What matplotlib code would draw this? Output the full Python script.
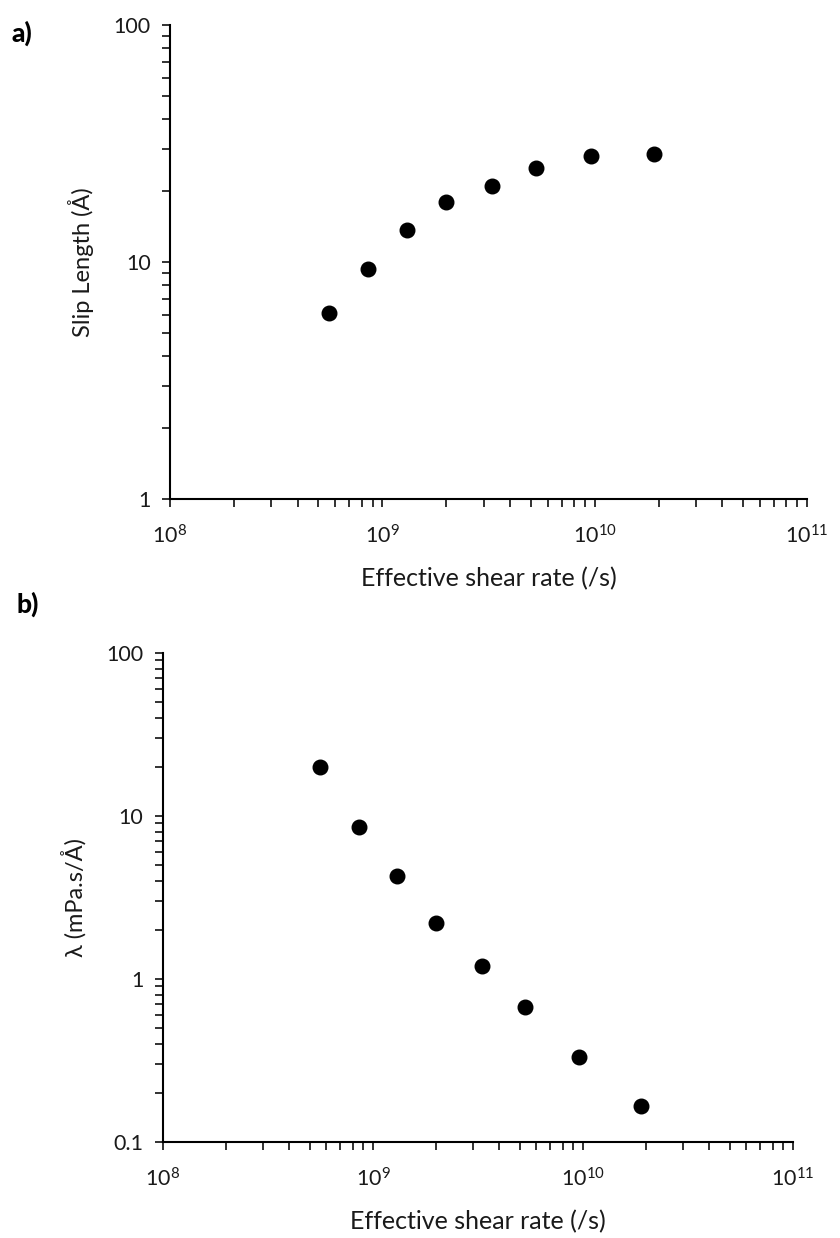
import matplotlib
matplotlib.use("Agg")
import matplotlib.pyplot as plt
from matplotlib.ticker import LogLocator, FuncFormatter, NullFormatter
import numpy as np

plt.rcParams['font.family'] = ['Lato', 'DejaVu Sans']
plt.rcParams['mathtext.fontset'] = 'custom'
plt.rcParams['mathtext.rm'] = 'Lato'

# shear rates (/s), same for both panels
shear_rate = [5.6e8, 8.6e8, 1.3e9, 2.0e9, 3.3e9, 5.3e9, 9.6e9, 1.9e10]
slip_length = [6.1, 9.3, 13.6, 17.9, 20.9, 24.9, 28.1, 28.6]
friction = [20.0, 8.5, 4.3, 2.2, 1.2, 0.67, 0.33, 0.165]

fig = plt.figure(figsize=(8.4, 12.38), dpi=100)
ax1 = fig.add_axes([0.2024, 0.5969, 0.7583, 0.3829])
ax2 = fig.add_axes([0.1940, 0.0776, 0.7500, 0.3950])


def style(ax, ylim, ylabel):
    ax.set_xscale('log')
    ax.set_yscale('log')
    ax.set_xlim(1e8, 1e11)
    ax.set_ylim(*ylim)
    for s in ['top', 'right']:
        ax.spines[s].set_visible(False)
    for s in ['left', 'bottom']:
        ax.spines[s].set_linewidth(1.5)
    ax.xaxis.set_major_locator(LogLocator(base=10, numticks=10))
    ax.xaxis.set_minor_locator(LogLocator(base=10, subs=np.arange(2, 10), numticks=10))
    ax.yaxis.set_major_locator(LogLocator(base=10, numticks=10))
    ax.yaxis.set_minor_locator(LogLocator(base=10, subs=np.arange(2, 10), numticks=10))
    ax.xaxis.set_major_formatter(FuncFormatter(lambda v, p: r'$\mathdefault{10^{%d}}$' % round(np.log10(v))))
    ax.yaxis.set_major_formatter(FuncFormatter(lambda v, p: '%g' % v))
    ax.xaxis.set_minor_formatter(NullFormatter())
    ax.yaxis.set_minor_formatter(NullFormatter())
    ax.tick_params(which='both', direction='out', length=6, width=1.3, labelsize=15.5,
                   color='#222222', labelcolor='#1a1a1a')
    ax.tick_params(axis='x', which='major', pad=12)
    ax.tick_params(axis='y', which='major', pad=8)
    ax.set_xlabel('Effective shear rate (/s)', fontsize=18, labelpad=14, color='#1a1a1a')
    ax.set_ylabel(ylabel, fontsize=17, labelpad=14, color='#1a1a1a')


ax1.scatter(shear_rate, slip_length, s=110, color='black', zorder=3)
style(ax1, (1, 100), 'Slip Length (Å)')

ax2.scatter(shear_rate, friction, s=110, color='black', zorder=3)
style(ax2, (0.1, 100), 'λ (mPa.s/Å)')

fig.text(0.014, 0.966, 'a)', fontsize=19, fontweight='black')
fig.text(0.020, 0.505, 'b)', fontsize=19, fontweight='black')

fig.savefig('out.png', dpi=100)
